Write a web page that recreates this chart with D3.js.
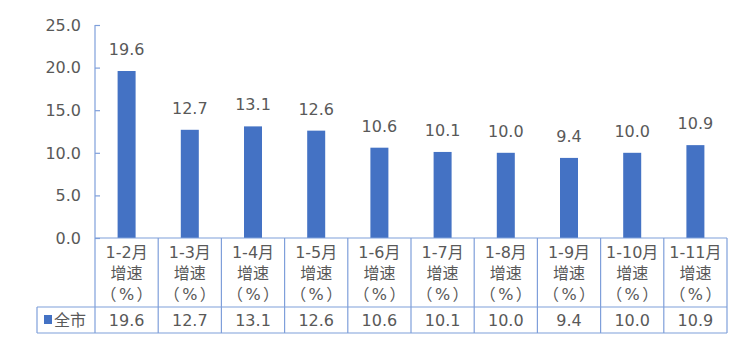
<!DOCTYPE html>
<html lang="zh">
<head>
<meta charset="UTF-8" />
<title>增速</title>
<script src="https://d3js.org/d3.v7.min.js"></script>
<style>
  body { margin: 0; background: #fff; }
  text { font-family: "DejaVu Sans", "Noto Sans CJK SC", sans-serif; fill: #595959; }
</style>
</head>
<body>
<div id="chart"></div>
<script>
// data
var periods = ["1-2月", "1-3月", "1-4月", "1-5月", "1-6月", "1-7月", "1-8月", "1-9月", "1-10月", "1-11月"];
var growth = [19.6, 12.7, 13.1, 12.6, 10.6, 10.1, 10.0, 9.4, 10.0, 10.9];
var yTicks = [0, 5, 10, 15, 20, 25];
var seriesName = "全市";
var unitLabel = "（%）";

var W = 750, H = 360;
var plotL = 95, plotR = 727, plotT = 25, base = 238;
var rowCat = 307, rowVal = 333, legendLeft = 37;
var lineColor = "#7f9fda", barColor = "#4472C4";

var svg = d3.select("#chart").append("svg")
  .attr("width", W).attr("height", H);

var x = d3.scaleBand().domain(periods).range([plotL, plotR]).padding(0);
var y = d3.scaleLinear().domain([0, 25]).range([base, plotT]);

// bars
svg.append("g").selectAll("rect")
  .data(growth)
  .enter().append("rect")
    .attr("x", function(d, i) { return x(periods[i]) + x.bandwidth() / 2 - 9; })
    .attr("y", function(d) { return y(d); })
    .attr("width", 18)
    .attr("height", function(d) { return base - y(d); })
    .attr("fill", barColor);

// value labels over bars
svg.append("g").selectAll("text")
  .data(growth)
  .enter().append("text")
    .attr("x", function(d, i) { return x(periods[i]) + x.bandwidth() / 2; })
    .attr("y", function(d) { return y(d) - 16; })
    .attr("text-anchor", "middle")
    .style("font-size", "16px")
    .text(function(d) { return d.toFixed(1); });

// y axis (ticks point inward)
var yAxis = svg.append("g")
  .attr("transform", "translate(" + plotL + ",0)")
  .call(d3.axisRight(y).tickValues(yTicks).tickSize(5).tickFormat(""));
yAxis.select(".domain").remove();
yAxis.selectAll("line").attr("stroke", lineColor).attr("stroke-width", 1.2);

svg.append("g").selectAll("text")
  .data(yTicks)
  .enter().append("text")
    .attr("x", plotL - 14)
    .attr("y", function(d) { return y(d); })
    .attr("dy", "0.36em")
    .attr("text-anchor", "end")
    .style("font-size", "16px")
    .text(function(d) { return d.toFixed(1); });

// table lines
var grid = svg.append("g").attr("stroke", lineColor).attr("stroke-width", 1.2).attr("fill", "none");
grid.append("line").attr("x1", plotL).attr("x2", plotL).attr("y1", plotT).attr("y2", rowVal);
grid.append("line").attr("x1", plotL).attr("x2", plotR).attr("y1", base).attr("y2", base);
grid.append("line").attr("x1", legendLeft).attr("x2", plotR).attr("y1", rowCat).attr("y2", rowCat);
grid.append("line").attr("x1", legendLeft).attr("x2", plotR).attr("y1", rowVal).attr("y2", rowVal);
grid.append("line").attr("x1", legendLeft).attr("x2", legendLeft).attr("y1", rowCat).attr("y2", rowVal);
grid.selectAll("line.col")
  .data(periods)
  .enter().append("line")
    .attr("class", "col")
    .attr("x1", function(d) { return x(d) + x.bandwidth(); })
    .attr("x2", function(d) { return x(d) + x.bandwidth(); })
    .attr("y1", base).attr("y2", rowVal);

// category labels, three lines each
var cats = svg.append("g").selectAll("text")
  .data(periods)
  .enter().append("text")
    .attr("text-anchor", "middle")
    .style("font-size", "16px");
cats.each(function(d) {
  var t = d3.select(this), cx = x(d) + x.bandwidth() / 2;
  t.append("tspan").attr("x", cx).attr("y", 258).text(d);
  t.append("tspan").attr("x", cx).attr("y", 279).text("增速");
  // spread the full-width brackets like the original
  unitLabel.split("").forEach(function(c, k) {
    t.append("tspan").attr("x", cx + (k - 1) * 18).attr("y", 300).text(c);
  });
});

// legend + values row
svg.append("rect")
  .attr("x", 44).attr("y", 315).attr("width", 8).attr("height", 9)
  .attr("fill", barColor);
svg.append("text")
  .attr("x", 54).attr("y", 320).attr("dy", "0.36em")
  .style("font-size", "16px")
  .text(seriesName);

svg.append("g").selectAll("text")
  .data(growth)
  .enter().append("text")
    .attr("x", function(d, i) { return x(periods[i]) + x.bandwidth() / 2; })
    .attr("y", 320)
    .attr("dy", "0.36em")
    .attr("text-anchor", "middle")
    .style("font-size", "16px")
    .text(function(d) { return d.toFixed(1); });
</script>
</body>
</html>
